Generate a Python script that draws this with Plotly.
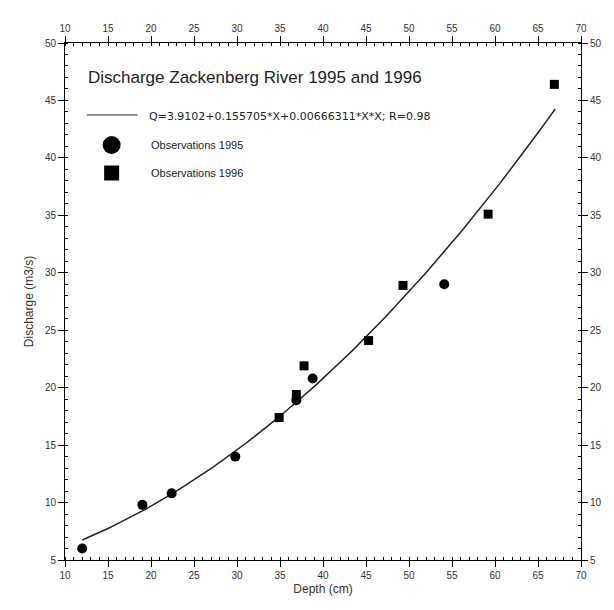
import plotly.graph_objects as go

# ---- data ----
depth_1995 = [12.0, 19.0, 22.4, 29.8, 36.9, 38.8, 54.1]
discharge_1995 = [6.0, 9.8, 10.8, 14.0, 18.9, 20.8, 29.0]

depth_1996 = [34.9, 36.9, 37.8, 45.3, 49.3, 59.2, 66.9]
discharge_1996 = [17.4, 19.4, 21.9, 24.1, 28.9, 35.1, 46.4]

# fitted curve Q = a + b*X + c*X*X  (coefficients from the legend)
fit_coef = [3.9102, 0.155705, 0.00666311]
fit_depth = [12 + 0.5 * i for i in range(111)]  # 12 .. 67 cm
fit_q = [fit_coef[0] + fit_coef[1] * x + fit_coef[2] * x * x for x in fit_depth]

x_ticks = list(range(10, 71, 5))
y_ticks = list(range(5, 51, 5))

title_text = "Discharge Zackenberg River 1995 and 1996"
fit_label = "Q=3.9102+0.155705*X+0.00666311*X*X; R=0.98"
label_1995 = "Observations 1995"
label_1996 = "Observations 1996"

FONT = "Liberation Sans, Arial, sans-serif"
TXT = "#333333"

fig = go.Figure()
fig.add_trace(go.Scatter(x=fit_depth, y=fit_q, mode="lines",
                         line=dict(color="#222222", width=1.5), showlegend=False))
fig.add_trace(go.Scatter(x=depth_1995, y=discharge_1995, mode="markers",
                         marker=dict(symbol="circle", size=10, color="black"), showlegend=False))
fig.add_trace(go.Scatter(x=depth_1996, y=discharge_1996, mode="markers",
                         marker=dict(symbol="square", size=9, color="black"), showlegend=False))
# invisible trace to activate the mirrored top/right axes
fig.add_trace(go.Scatter(x=[10, 70], y=[5, 50], xaxis="x2", yaxis="y2", mode="markers",
                         marker=dict(opacity=0), showlegend=False, hoverinfo="skip"))

axis_common = dict(
    showgrid=False, zeroline=False, showline=True, linecolor="black", linewidth=1,
    ticks="outside", ticklen=6, tickcolor="black", tickwidth=1,
    tickfont=dict(family=FONT, size=10, color=TXT),
    minor=dict(dtick=1, ticks="inside", ticklen=3, tickcolor="black", tickwidth=1),
)

fig.update_layout(
    width=614, height=610,
    margin=dict(l=65, r=29, t=43, b=50),
    paper_bgcolor="white", plot_bgcolor="white",
    showlegend=False,
    xaxis=dict(range=[10, 70], tickvals=x_ticks, **axis_common,
               title=dict(text="Depth (cm)", font=dict(family=FONT, size=12, color=TXT), standoff=4)),
    yaxis=dict(range=[5, 50], tickvals=y_ticks, **axis_common,
               title=dict(text="Discharge (m3/s)", font=dict(family=FONT, size=12, color=TXT), standoff=8)),
    xaxis2=dict(range=[10, 70], tickvals=x_ticks, overlaying="x", side="top", anchor="y", **axis_common),
    yaxis2=dict(range=[5, 50], tickvals=y_ticks, overlaying="y", side="right", anchor="x", **axis_common),
)

# ---- hand-built legend box ----
def py(p):  # pixel y (from top) to paper y
    return (560 - p) / 517

def px(p):
    return (p - 65) / 520

fig.add_annotation(xref="paper", yref="paper", x=px(86), y=py(77), xanchor="left", yanchor="middle",
                   text=title_text, showarrow=False, font=dict(family=FONT, size=17, color="#222222"))
fig.add_shape(type="line", xref="paper", yref="paper", x0=px(87), x1=px(138), y0=py(115), y1=py(115),
              line=dict(color="#222222", width=1.2))
fig.add_annotation(xref="paper", yref="paper", x=px(148), y=py(116), xanchor="left", yanchor="middle",
                   text=fit_label, showarrow=False,
                   font=dict(family="DejaVu Sans, sans-serif", size=11, color="#222222"))
fig.add_shape(type="circle", xref="paper", yref="paper", xsizemode="pixel", ysizemode="pixel",
              xanchor=px(112), yanchor=py(145), x0=-9, x1=9, y0=-9, y1=9,
              fillcolor="black", line=dict(color="black", width=0))
fig.add_annotation(xref="paper", yref="paper", x=px(150), y=py(145), xanchor="left", yanchor="middle",
                   text=label_1995, showarrow=False, font=dict(family=FONT, size=11, color="#222222"))
fig.add_shape(type="rect", xref="paper", yref="paper", xsizemode="pixel", ysizemode="pixel",
              xanchor=px(112), yanchor=py(173), x0=-7.5, x1=7.5, y0=-7.5, y1=7.5,
              fillcolor="black", line=dict(color="black", width=0))
fig.add_annotation(xref="paper", yref="paper", x=px(150), y=py(173), xanchor="left", yanchor="middle",
                   text=label_1996, showarrow=False, font=dict(family=FONT, size=11, color="#222222"))

fig.write_html("out.html")
